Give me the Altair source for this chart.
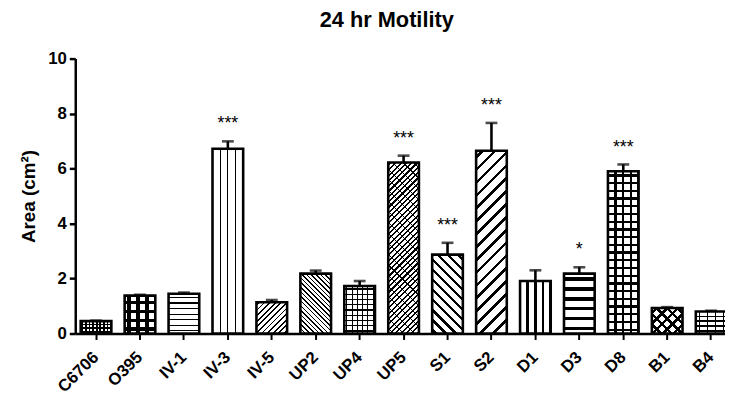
import math
import altair as alt
import pandas as pd

# ---- data ----
strains = ["C6706", "O395", "IV-1", "IV-3", "IV-5", "UP2", "UP4", "UP5",
           "S1", "S2", "D1", "D3", "D8", "B1", "B4"]
means = [0.45, 1.38, 1.45, 6.72, 1.14, 2.18, 1.73, 6.22,
         2.87, 6.65, 1.91, 2.18, 5.90, 0.93, 0.80]
errors = [0.02, 0.03, 0.04, 0.27, 0.08, 0.11, 0.18, 0.25,
          0.43, 1.01, 0.39, 0.23, 0.25, 0.03, 0.03]
stars = ["", "", "", "***", "", "", "", "***",
         "***", "***", "", "*", "***", "", ""]

df = pd.DataFrame({"strain": strains, "mean": means, "err": errors, "stars": stars})
df["top"] = df["mean"] + df["err"]

# ---- layout / style ----
PLOT_W, PLOT_H = 664, 278
P_IN, P_OUT = 0.302, 0.124
STEP = PLOT_W / (len(strains) - P_IN + 2 * P_OUT)
BW = STEP * (1 - P_IN)
PX_PER_UNIT = PLOT_H / 10.0
FONT = "Liberation Sans"
TRANSPARENT = "rgba(0,0,0,0)"

# pattern layers per strain: (kind, period px, line width px, phase px)
patterns = {
    "C6706": [("v", 3.6, 1.6, 1.8), ("h", 3.6, 1.6, 1.8)],
    "O395": [("v", 9.0, 3.4, 4.5), ("h", 9.0, 3.4, 4.5)],
    "IV-1": [("h", 5.6, 1.3, 2.8)],
    "IV-3": [("v", BW / 4, 1.3, BW / 4)],
    "IV-5": [("/", 4.0, 1.2, 2.0)],
    "UP2": [("\\", 3.3, 1.1, 1.6)],
    "UP4": [("v", 5.3, 1.2, 2.6), ("h", 5.3, 1.2, 2.6)],
    "UP5": [("/", 3.8, 1.5, 1.9), ("\\", 7.6, 0.8, 3.8)],
    "S1": [("\\", 7.2, 2.4, 3.6)],
    "S2": [("/", 9.2, 2.6, 4.6)],
    "D1": [("v", BW / 4, 2.6, BW / 4)],
    "D3": [("h", 10.0, 3.4, 5.0)],
    "D8": [("v", BW / 4, 2.3, BW / 4), ("h", 7.8, 2.3, 3.9)],
    "B1": [("/", 7.5, 2.6, 3.7), ("\\", 7.5, 2.6, 3.7)],
    "B4": [("h", 5.0, 1.4, 2.5), ("v", 8.0, 1.0, 4.0)],
}


def stripe_stops(D, P, L, phase, fg, bg):
    stops = [(0.0, bg)]
    c = phase
    while c - L / 2 < D:
        a = max(c - L / 2, 0.0) / D
        b = min(c + L / 2, D) / D
        if b > 0:
            stops += [(a, bg), (a, fg), (b, fg), (b, bg)]
        c += P
    stops.append((1.0, bg))
    return [alt.GradientStop(offset=round(o, 5), color=col) for o, col in stops]


def make_gradient(kind, P, L, phase, w, h, bg):
    if kind == "v":
        D, coords = w, dict(x1=0, y1=0, x2=1, y2=0)
    elif kind == "h":
        D, coords = h, dict(x1=0, y1=1, x2=0, y2=0)
    else:
        k = (w + h) / (w * w + h * h)
        D = (w + h) / math.sqrt(2)
        if kind == "/":
            coords = dict(x1=0, y1=0, x2=k * w, y2=k * h)
        else:
            coords = dict(x1=1, y1=0, x2=1 - k * w, y2=k * h)
    return alt.LinearGradient(gradient="linear",
                              stops=stripe_stops(D, P, L, phase, "black", bg),
                              **coords)


x_enc = alt.X("strain:N", sort=strains,
              scale=alt.Scale(domain=strains, paddingInner=P_IN, paddingOuter=P_OUT),
              axis=alt.Axis(title=None, labelAngle=-45, labelAlign="right",
                            labelBaseline="middle", labelFont=FONT,
                            labelFontSize=17, labelFontWeight="bold",
                            labelColor="black", labelPadding=15,
                            tickSize=6, tickWidth=2, tickColor="black",
                            domainWidth=2.5, domainColor="black"))

y_axis = alt.Axis(title="Area (cm²)", values=[0, 2, 4, 6, 8, 10],
                  labelFont=FONT, labelFontSize=17, labelFontWeight="bold",
                  labelColor="black", labelPadding=3,
                  tickSize=6, tickWidth=2.5, tickColor="black",
                  domainWidth=2.5, domainColor="black",
                  titleFont=FONT, titleFontSize=19, titleFontWeight="bold",
                  titleColor="black", titlePadding=9, grid=False)
y_scale = alt.Scale(domain=[0, 10], nice=False)
y_mean = alt.Y("mean:Q", scale=y_scale, axis=y_axis)
y_top = alt.Y("top:Q", scale=y_scale, axis=y_axis)

base = alt.Chart(df)
layers = []
for s, m in zip(strains, means):
    h = m * PX_PER_UNIT
    for j, (kind, P, L, ph) in enumerate(patterns[s]):
        bg = "white" if j == 0 else TRANSPARENT
        grad = make_gradient(kind, P, L, ph, BW, h, bg)
        layers.append(
            base.transform_filter(alt.datum.strain == s)
            .mark_bar(fill=grad, strokeWidth=0)
            .encode(x=x_enc, y=y_mean)
        )

outline = base.mark_bar(fillOpacity=0, stroke="black", strokeWidth=2.6).encode(x=x_enc, y=y_mean)
err_rule = base.mark_rule(color="black", strokeWidth=2.6).encode(x=x_enc, y=y_mean, y2="top:Q")
err_cap = base.mark_tick(color="black", thickness=2.6, size=12).encode(x=x_enc, y=y_top)
star_text = base.mark_text(font=FONT, fontSize=18, color="black", dy=-12,
                           baseline="alphabetic").encode(x=x_enc, y=y_top, text="stars:N")

chart = alt.layer(*layers, outline, err_rule, err_cap, star_text).properties(
    width=PLOT_W, height=PLOT_H,
    title=alt.TitleParams("24 hr Motility", font=FONT, fontSize=22,
                          fontWeight="bold", color="black", offset=18,
                          dx=-17, frame="group"),
    autosize=alt.AutoSizeParams(type="none"),
    padding={"left": 68, "top": 49, "right": -7, "bottom": 61},
).configure_view(stroke=None)

chart.save("out.html", embed_options={"renderer": "svg", "actions": False})
